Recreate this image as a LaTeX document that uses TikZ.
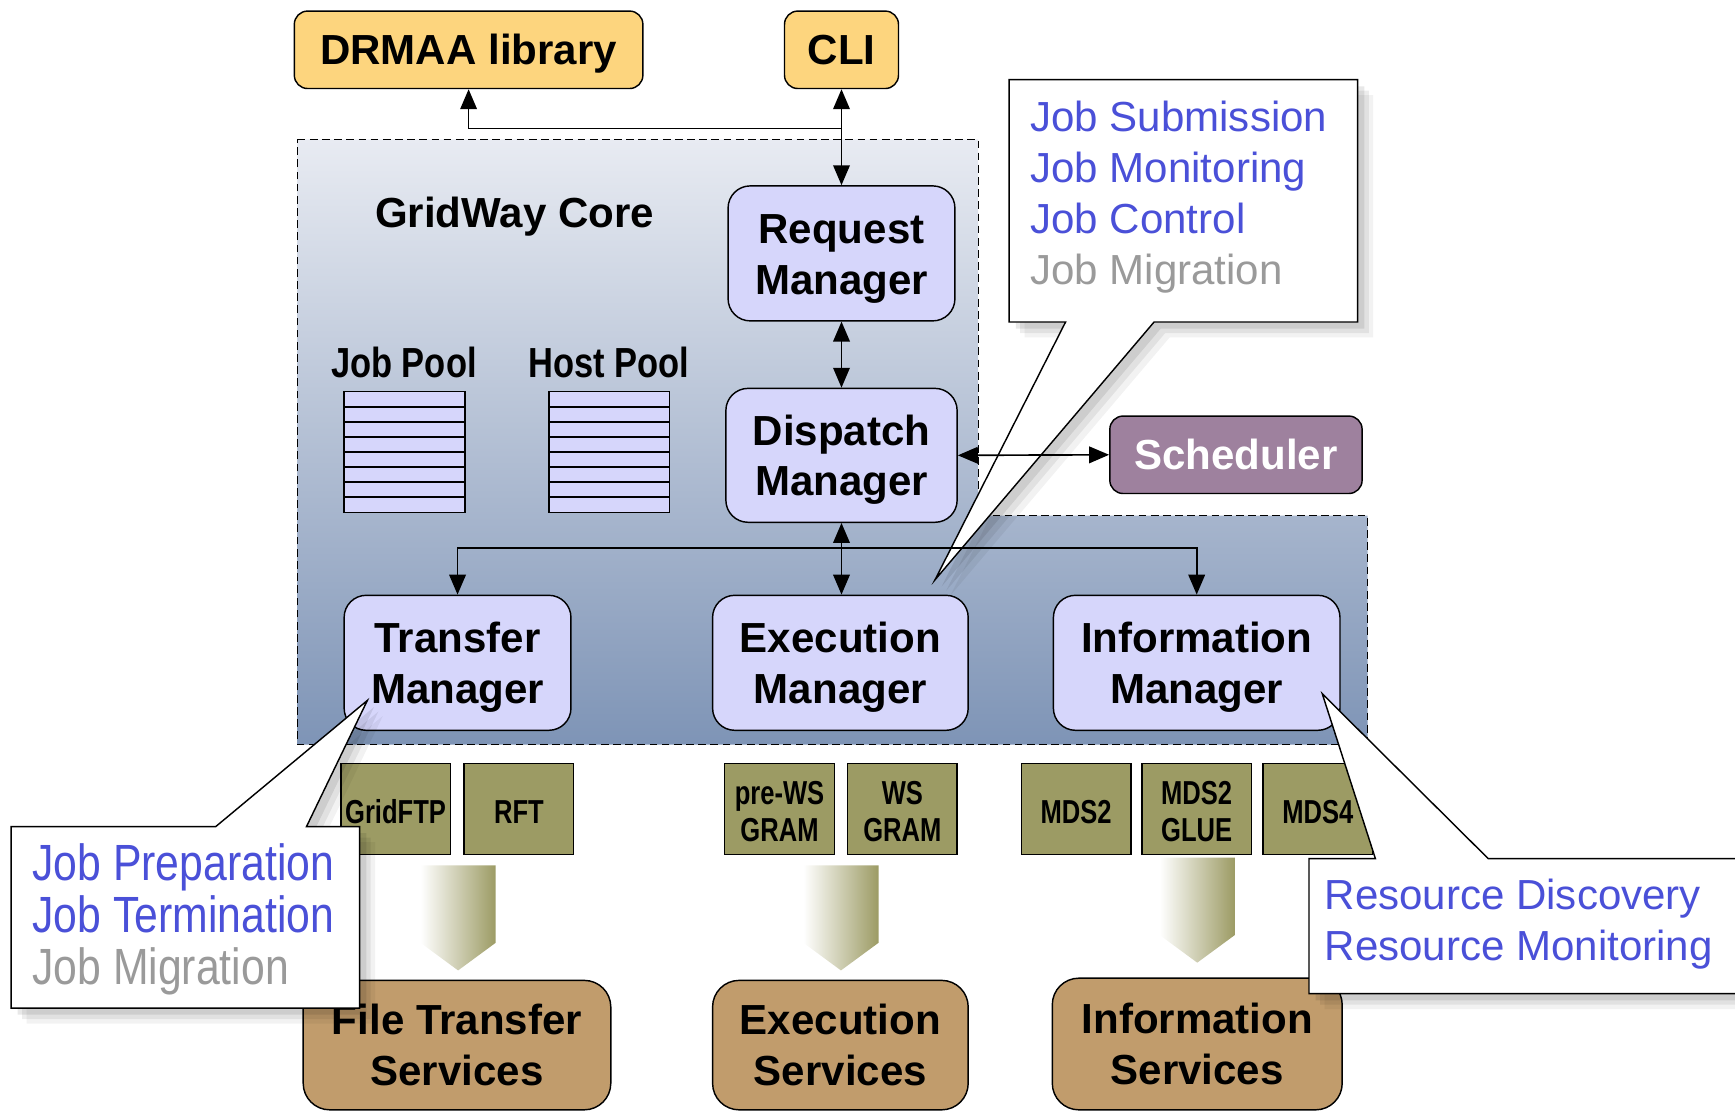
\documentclass[tikz,border=0pt]{standalone}
\usepackage{fontspec}
\setmainfont{Liberation Sans}
\usepackage{graphicx}
\usetikzlibrary{arrows.meta}
\definecolor{yel}{HTML}{FDD57E}
\definecolor{lav}{HTML}{D6D6FB}
\definecolor{mauve}{HTML}{9E819E}
\definecolor{olive}{HTML}{9C9B64}
\definecolor{tanb}{HTML}{C19C6C}
\definecolor{bl}{HTML}{4A50D8}
\definecolor{gtext}{HTML}{9A9A9A}
\definecolor{rtop}{HTML}{E8EBF2}
\definecolor{rmid}{HTML}{BFC8D9}
\definecolor{rbot}{HTML}{7E94B6}
% centred text block, lowered by #1 while keeping its extents
\newcommand\bt[2][4.5pt]{\raisebox{-#1}[\height][\depth]{\begin{tabular}{@{}c@{}}#2\end{tabular}}}
% narrow text block for the middleware boxes
\newcommand\nar[1]{\raisebox{-6pt}[\height][\depth]{\scalebox{0.77}[1]{\begin{tabular}{@{}c@{}}#1\end{tabular}}}}
\begin{document}
\begin{tikzpicture}[x=1pt,y=-1pt,
  box/.style={draw, line width=1.3pt, rounded corners=12pt, inner sep=0pt, align=center,
              font=\fontsize{38}{46}\selectfont\bfseries},
  mgr/.style={box, fill=lav, rounded corners=20pt, minimum height=122pt},
  svc/.style={box, fill=tanb, rounded corners=24pt},
  grn/.style={draw, line width=1.3pt, fill=olive, minimum width=99pt, minimum height=82pt,
              inner sep=0pt, align=center, font=\fontsize{30}{34}\selectfont\bfseries},
  lbl/.style={inner sep=0pt, font=\fontsize{38}{46}\selectfont\bfseries},
  ctxt/.style={inner sep=0pt, anchor=base west, font=\fontsize{38}{46}\selectfont},
  arr/.style={line width=1.5pt, -{Triangle[length=18pt,width=15pt]}},
  dbl/.style={line width=1.5pt, {Triangle[length=18pt,width=15pt]}-{Triangle[length=18pt,width=15pt]}},
  bigarrow/.style={left color=white, middle color=olive!35!white, right color=olive},
  callout/.style={draw, fill=white, line width=1.3pt}
]
\useasboundingbox (0,0) rectangle (1568,1005);

% GridWay core region
\path[top color=rtop, middle color=rmid, bottom color=rbot]
  (269,126) -- (884,126) -- (884,466) -- (1236,466) -- (1236,673) -- (269,673) -- cycle;
\draw[dashed, dash pattern=on 7pt off 4pt, line width=1.2pt]
  (269,126) -- (884,126) -- (884,466) -- (1236,466) -- (1236,673) -- (269,673) -- cycle;

% top boxes
\node[box, fill=yel, minimum width=315pt, minimum height=70pt] (drmaa) at (423.5,45) {\bt{DRMAA library}};
\node[box, fill=yel, minimum width=103pt, minimum height=70pt] (cli) at (760.5,45) {\bt{CLI}};

\node[lbl] (core) at (465,192) {\bt{GridWay Core}};
\node[lbl] (jplbl) at (365,328) {\scalebox{0.82}[1]{Job Pool}};
\node[lbl] (hplbl) at (550,328) {\scalebox{0.82}[1]{Host Pool}};

% pools
\foreach \px in {311,496}{
  \filldraw[fill=lav, line width=1.4pt] (\px,354) rectangle (\px+109,463);
  \foreach \k in {1,...,7}{
    \draw[line width=1.4pt] (\px,354+\k*13.625) -- (\px+109,354+\k*13.625);
  }
}

% managers
\node[mgr, minimum width=205pt] (req) at (760.5,229) {\bt{Request\\Manager}};
\node[mgr, minimum width=209pt, minimum height=121pt] (disp) at (760.5,411.5) {\bt{Dispatch\\Manager}};
\node[box, fill=mauve, text=white, minimum width=228pt, minimum height=70pt] (sched) at (1117,411) {\bt{Scheduler}};
\node[mgr, minimum width=205pt] (tm) at (413.5,599) {\bt{Transfer\\Manager}};
\node[mgr, minimum width=231pt] (em) at (759.5,599) {\bt{Execution\\Manager}};
\node[mgr, minimum width=259pt] (im) at (1081.5,599) {\bt{Information\\Manager}};

% middleware boxes
\node[grn] (gridftp) at (357.5,731) {\nar{GridFTP}};
\node[grn] (rft) at (469,731) {\nar{RFT}};
\node[grn] (prews) at (704.5,731) {\nar{pre-WS\\GRAM}};
\node[grn] (ws) at (815.5,731) {\nar{WS\\GRAM}};
\node[grn] (mds2) at (972.5,731) {\nar{MDS2}};
\node[grn] (glue) at (1081.5,731) {\nar{MDS2\\GLUE}};
\node[grn] (mds4) at (1191,731) {\nar{MDS4}};

% big gradient arrows
\path[bigarrow] (380,782) -- (448,782) -- (448,852) -- (414,877) -- (380,852) -- cycle;
\path[bigarrow] (726,782) -- (794,782) -- (794,852) -- (760,877) -- (726,852) -- cycle;
\path[bigarrow] (1048,775) -- (1116,775) -- (1116,845) -- (1082,870) -- (1048,845) -- cycle;

% services
\node[svc, minimum width=278pt, minimum height=117pt] (fts) at (413,944.5) {\bt{File Transfer\\Services}};
\node[svc, minimum width=231pt, minimum height=117pt] (ess) at (759.5,944.5) {\bt{Execution\\Services}};
\node[svc, minimum width=262pt, minimum height=119pt] (iss) at (1082,943.5) {\bt{Information\\Services}};

% callout: top right
\foreach \s/\op in {14/0.05,10/0.07,6/0.09}{
  \fill[black, opacity=\op, xshift=\s pt, yshift=-\s pt]
    (912,72) -- (1227,72) -- (1227,291) -- (1043,291) -- (845,524) -- (963,291) -- (912,291) -- cycle;
}
\path[callout] (912,72) -- (1227,72) -- (1227,291) -- (1043,291) -- (845,524) -- (963,291) -- (912,291) -- cycle;
\node[ctxt, text=bl] (c1a) at (931,119) {Job Submission};
\node[ctxt, text=bl] (c1b) at (931,165) {Job Monitoring};
\node[ctxt, text=bl] (c1c) at (931,211) {Job Control};
\node[ctxt, text=gtext] (c1d) at (931,257) {Job Migration};

% callout: bottom left
\foreach \s/\op in {14/0.05,10/0.07,6/0.09}{
  \fill[black, opacity=\op, xshift=\s pt, yshift=-\s pt]
    (10,747) -- (195,747) -- (332,633) -- (277,747) -- (325,747) -- (325,911) -- (10,911) -- cycle;
}
\path[callout] (10,747) -- (195,747) -- (332,633) -- (277,747) -- (325,747) -- (325,911) -- (10,911) -- cycle;
\node[ctxt, text=bl, font=\fontsize{46}{47}\selectfont] (c2a) at (29,796) {\scalebox{0.84}[1]{Job Preparation}};
\node[ctxt, text=bl, font=\fontsize{46}{47}\selectfont] (c2b) at (29,843) {\scalebox{0.84}[1]{Job Termination}};
\node[ctxt, text=gtext, font=\fontsize{46}{47}\selectfont] (c2c) at (29,890) {\scalebox{0.84}[1]{Job Migration}};

% callout: bottom right
\foreach \s/\op in {14/0.05,10/0.07,6/0.09}{
  \fill[black, opacity=\op, xshift=\s pt, yshift=-\s pt]
    (1183,776) -- (1243,776) -- (1195,627) -- (1345,776) -- (1580,776) -- (1580,898) -- (1183,898) -- cycle;
}
\path[callout] (1183,776) -- (1243,776) -- (1195,627) -- (1345,776) -- (1580,776) -- (1580,898) -- (1183,898) -- cycle;
\node[ctxt, text=bl] (c3a) at (1197,822) {Resource Discovery};
\node[ctxt, text=bl] (c3b) at (1197,868) {Resource Monitoring};

% connectors
\draw[dbl] (cli.south) -- (req.north);
\coordinate (j1) at (760.5,116);
\draw[arr] (j1) -| (drmaa.south);
\draw[dbl] (req.south) -- (disp.north);
\draw[dbl] (disp.east) -- (sched.west);
\draw[dbl] (disp.south) -- (disp.south |- em.north);
\coordinate (bus) at (760.5,495);
\draw[arr] (bus) -| (tm.north);
\draw[arr] (bus) -| (im.north);
\end{tikzpicture}
\end{document}
